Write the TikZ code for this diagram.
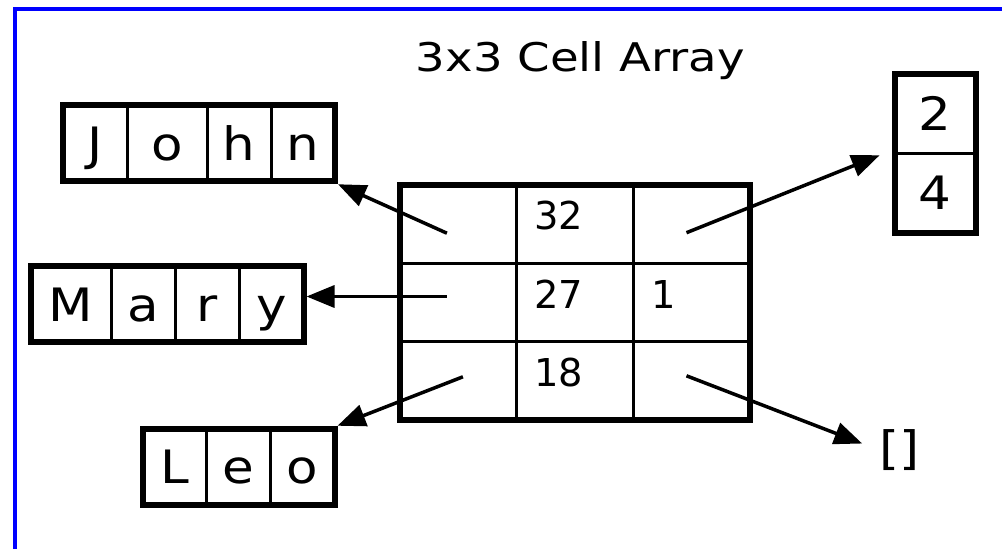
\documentclass[tikz,border=0pt]{standalone}
\usepackage{fontspec}
\setmainfont{DejaVu Sans}
\newfontfamily\widesans[FakeStretch=1.12]{DejaVu Sans}
\newfontfamily\titlesans[FakeStretch=1.18]{DejaVu Sans}
\usetikzlibrary{arrows.meta, positioning, fit, calc}

\begin{document}
\begin{tikzpicture}[
    x=1pt, y=-1pt,
    node distance=0pt,
    frame/.style={draw=blue, line width=4pt},
    letter/.style={
        rectangle, draw, line width=3pt, outer sep=0pt, inner sep=0pt,
        minimum width=#1, minimum height=76pt,
        font=\widesans\fontsize{46}{50}\selectfont,
        text height=33.5pt, text depth=0pt
    },
    letter/.default=64pt,
    cell/.style={
        rectangle, draw, line width=3pt, outer sep=0pt,
        minimum width=116.8pt, minimum height=78.3pt,
        text width=80.8pt, inner xsep=18pt, inner ysep=0pt, align=left,
        font=\fontsize{38.4}{44}\selectfont,
        text height=28pt, text depth=17pt
    },
    outline/.style={draw, line width=6pt, inner sep=0pt},
    arrow/.style={-{Triangle[length=28pt, width=22pt]}, line width=3.5pt}
]
\useasboundingbox (0,0) rectangle (1002,549);

% Frame
\draw[frame] (15,549) -- (15,9) -- (1002,9);

% Title
\node[font=\titlesans\fontsize{39.5}{46}\selectfont, anchor=base] (title) at (580.5,71.7) {3x3 Cell Array};

% Cell array
\node[cell] (c11) at (457.9,224.2) {};
\node[cell, right=of c11] (c12) {32};
\node[cell, right=of c12] (c13) {};
\node[cell, below=of c11] (c21) {};
\node[cell, right=of c21] (c22) {27};
\node[cell, right=of c22] (c23) {1};
\node[cell, below=of c21] (c31) {};
\node[cell, right=of c31] (c32) {18};
\node[cell, right=of c32] (c33) {};
\node[outline, fit=(c11)(c33)] (cellarr) {};

% John
\node[letter] (j1) at (95,143.25) {J};
\node[letter=80pt, right=of j1] (j2) {o};
\node[letter, right=of j2] (j3) {h};
\node[letter, right=of j3] (j4) {n};
\node[outline, fit=(j1)(j4)] (john) {};

% Mary
\node[letter=81pt] (m1) at (71,304.25) {M};
\node[letter, right=of m1] (m2) {a};
\node[letter, right=of m2] (m3) {r};
\node[letter, right=of m3] (m4) {y};
\node[outline, fit=(m1)(m4)] (mary) {};

% Leo
\node[letter] (l1) at (174.5,466.75) {L};
\node[letter, right=of l1] (l2) {e};
\node[letter, right=of l2] (l3) {o};
\node[outline, fit=(l1)(l3)] (leo) {};

% Vector 2/4
\node[letter=81pt, minimum height=79.6pt] (v1) at (935,113.5) {2};
\node[letter=81pt, minimum height=79.6pt, below=of v1] (v2) {4};
\node[outline, fit=(v1)(v2)] (vec) {};

% Empty cell
\node[font=\widesans\fontsize{46}{50}\selectfont, inner sep=0pt, anchor=west] (empty) at (879,450) {[]};

% Arrows
\coordinate (pj) at ($(c11)+(-11,9)$);
\coordinate (pm) at ($(c21)+(-11,-6)$);
\coordinate (pl) at ($(c31)+(5,-4)$);
\coordinate (pv) at ($(c13)+(-5,8.5)$);
\coordinate (pe) at ($(c33)+(-5,-5)$);
\draw[arrow] (pj) -- (john.south east);
\draw[arrow] (pm) -- (pm -| mary.east);
\draw[arrow] (pl) -- (leo.north east);
\draw[arrow, shorten >=16pt] (pv) -- ($(v1.south west)+(0,-4)$);
\draw[arrow, shorten >=18pt] (pe) -- (empty.west);

\end{tikzpicture}
\end{document}
